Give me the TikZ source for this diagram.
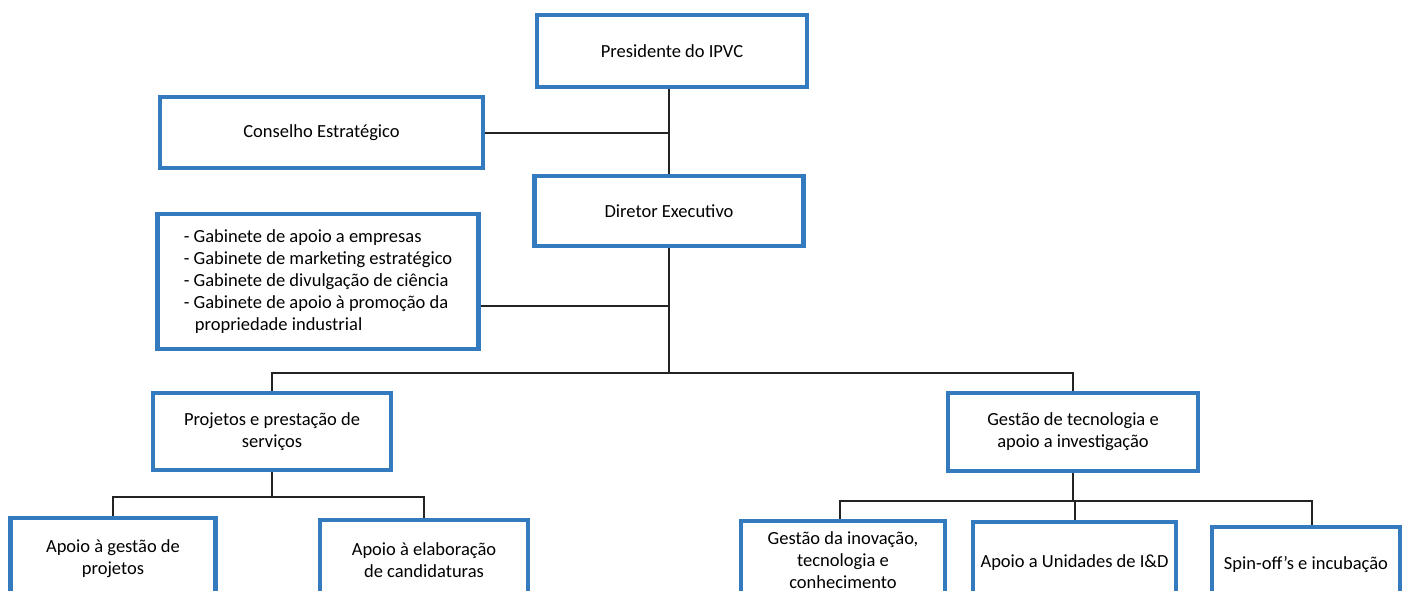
\documentclass[tikz,border=0pt]{standalone}
\usepackage{fontspec}
\setmainfont{Carlito}
\usetikzlibrary{backgrounds}
\definecolor{boxblue}{RGB}{52,122,190}
\definecolor{linegray}{RGB}{35,35,35}
\tikzset{
  orgbox/.style={draw=boxblue, line width=4.5pt, fill=white, rectangle, inner sep=0pt,
    align=center, font=\fontsize{18.5}{22}\selectfont, text=black},
  conn/.style={draw=linegray, line width=2pt},
}
\begin{document}
\begin{tikzpicture}[x=1pt,y=-1pt]
\useasboundingbox (0,0) rectangle (1407,591);
\clip (0,0) rectangle (1407,591);

\node[orgbox, minimum width=270pt, minimum height=72pt] (pres) at (672,51) {Presidente do IPVC};
\node[orgbox, minimum width=323pt, minimum height=71pt] (cons) at (321.5,132.5) {Conselho Estratégico};
\node[orgbox, minimum width=269pt, minimum height=70pt] (dir) at (669,211) {Diretor Executivo};
\node[orgbox, minimum width=321pt, minimum height=135pt, align=left] (gab) at (318,281.5)
  {- Gabinete de apoio a empresas\\- Gabinete de marketing estratégico\\- Gabinete de divulgação de ciência\\- Gabinete de apoio à promoção da\\\hspace*{0.6em}propriedade industrial};
\node[orgbox, minimum width=238pt, minimum height=77pt] (proj) at (272,431.5) {Projetos e prestação de\\serviços};
\node[orgbox, minimum width=250pt, minimum height=78pt] (gtec) at (1073,432) {Gestão de tecnologia e\\apoio a investigação};
\node[orgbox, minimum width=205pt, minimum height=82pt] (ag) at (113,559) {Apoio à gestão de\\projetos};
\node[orgbox, minimum width=208pt, minimum height=80pt] (ae) at (424,560) {Apoio à elaboração\\de candidaturas};
\node[orgbox, minimum width=204pt, minimum height=78pt] (gi) at (843,560) {Gestão da inovação,\\tecnologia e\\conhecimento};
\node[orgbox, minimum width=203pt, minimum height=82pt] (au) at (1074.5,563) {Apoio a Unidades de I\&D};
\node[orgbox, minimum width=188pt, minimum height=76pt] (sp) at (1306,565) {Spin-off’s e incubação};

\coordinate (h1) at (669,373);
\coordinate (h2) at (272,497);
\coordinate (h3) at (1073,501);

\begin{scope}[on background layer]
\fill[white] (0,0) rectangle (1407,591);
\draw[conn] (dir.north) -- (dir.north |- pres.south);
\draw[conn] (cons.east) -- (cons.east -| dir.north);
\draw[conn] ([yshift=-24pt]gab.east) -- ([yshift=-24pt]gab.east -| dir.south);
\draw[conn] (dir.south) -- (h1);
\draw[conn] (proj.north) -- (proj.north |- h1) -- (gtec.north |- h1) -- (gtec.north);
\draw[conn] (proj.south) -- (h2);
\draw[conn] (ag.north) -- (ag.north |- h2) -- (ae.north |- h2) -- (ae.north);
\draw[conn] (gtec.south) -- (h3);
\draw[conn] ([xshift=-3pt]gi.north) -- ([xshift=-3pt]gi.north |- h3) -- ([xshift=6pt]sp.north |- h3) -- ([xshift=6pt]sp.north);
\draw[conn] (au.north) -- (au.north |- h3);
\end{scope}
\end{tikzpicture}
\end{document}
